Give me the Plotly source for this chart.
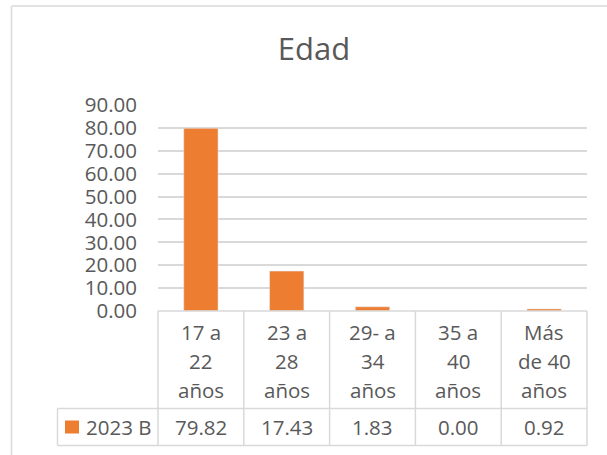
import plotly.graph_objects as go

# ---- data ----
categories = ["17 a 22 años", "23 a 28 años", "29- a 34 años", "35 a 40 años", "Más de 40 años"]
category_lines = [["17 a", "22", "años"], ["23 a", "28", "años"], ["29- a", "34", "años"],
                  ["35 a", "40", "años"], ["Más", "de 40", "años"]]
series_name = "2023 B"
values_2023b = [79.82, 17.43, 1.83, 0.00, 0.92]
title_text = "Edad"
y_ticks = [0, 10, 20, 30, 40, 50, 60, 70, 80, 90]

# ---- styles ----
BAR = "#ED7D31"
TXT = "#595959"
GRID = "#D9D9D9"
FONT = "Open Sans"
FS = 20.5

W, H = 607, 455
ML, MR, MT, MB = 158, 20, 105, 144
PW = W - ML - MR
PH = H - MT - MB


def py(px_y):
    """pixel y (from top) -> paper y"""
    return (H - MB - px_y) / PH


def pxp(px_x):
    """pixel x -> paper x"""
    return (px_x - ML) / PW


fig = go.Figure()
fig.add_trace(go.Bar(x=categories, y=values_2023b, marker_color=BAR, name=series_name,
                     hoverinfo="skip", showlegend=False))

shapes = []
ann = []
n = len(categories)
line_style = dict(color=GRID, width=1.5)

# table: vertical lines at category boundaries
y_hdr_bottom = py(408.5)
y_tbl_bottom = py(445.5)
for k in range(n + 1):
    xp = k / n
    shapes.append(dict(type="line", xref="paper", yref="paper", x0=xp, x1=xp,
                       y0=0, y1=y_tbl_bottom, line=line_style))
# left edge of the legend cell
x_leg_left = pxp(57.5)
shapes.append(dict(type="line", xref="paper", yref="paper", x0=x_leg_left, x1=x_leg_left,
                   y0=y_hdr_bottom, y1=y_tbl_bottom, line=line_style))
# horizontal lines
shapes.append(dict(type="line", xref="paper", yref="paper", x0=0, x1=1, y0=0, y1=0, line=line_style))
for yy in (y_hdr_bottom, y_tbl_bottom):
    shapes.append(dict(type="line", xref="paper", yref="paper", x0=x_leg_left, x1=1,
                       y0=yy, y1=yy, line=line_style))

# legend key square
shapes.append(dict(type="rect", xref="paper", yref="paper",
                   x0=pxp(65), x1=pxp(79), y0=py(433.5), y1=py(420.5),
                   fillcolor=BAR, line=dict(width=0)))

# chart area border (left and top edges visible)
bx, by = pxp(11.5), py(6)
shapes.append(dict(type="line", xref="paper", yref="paper", x0=bx, x1=bx, y0=-2, y1=by, line=line_style))
shapes.append(dict(type="line", xref="paper", yref="paper", x0=bx, x1=2, y0=by, y1=by, line=line_style))

# category header text
line_y = [py(332), py(361), py(389.5)]
for cat, lines in zip(categories, category_lines):
    for txt, yy in zip(lines, line_y):
        ann.append(dict(x=cat, xref="x", y=yy, yref="paper", text=txt, showarrow=False,
                        xanchor="center", yanchor="middle", font=dict(size=FS, color=TXT, family=FONT)))

# value row text
for cat, v in zip(categories, values_2023b):
    ann.append(dict(x=cat, xref="x", y=py(427), yref="paper", text=f"{v:.2f}", showarrow=False,
                    xanchor="center", yanchor="middle", font=dict(size=FS, color=TXT, family=FONT)))

# series name in table
ann.append(dict(x=pxp(84), xref="paper", y=py(427), yref="paper", text=series_name, showarrow=False,
                xanchor="left", yanchor="middle", font=dict(size=FS, color=TXT, family=FONT)))

fig.update_layout(
    width=W, height=H,
    margin=dict(l=ML, r=MR, t=MT, b=MB, pad=0),
    paper_bgcolor="white", plot_bgcolor="white",
    title=dict(text=title_text, x=314 / W, xref="container", xanchor="center",
               y=1 - 49 / H, yref="container", yanchor="middle",
               font=dict(size=31, color=TXT, family=FONT)),
    bargap=0.6,
    shapes=shapes,
    annotations=ann,
    showlegend=False,
    font=dict(family=FONT, color=TXT, size=FS),
)
fig.update_xaxes(showticklabels=False, showgrid=False, zeroline=False, showline=False,
                 range=[-0.5, n - 0.5], fixedrange=True)
fig.update_yaxes(range=[0, 90], tickvals=y_ticks, tickformat=".2f", showgrid=True, gridcolor=GRID,
                 gridwidth=1.5, zeroline=False, showline=False, ticks="", ticklabelstandoff=20,
                 tickfont=dict(size=FS, color=TXT, family=FONT), fixedrange=True)

fig.write_html("out.html", config={"displayModeBar": False},
               post_script="document.body.style.margin='0';document.body.style.overflow='hidden';")
